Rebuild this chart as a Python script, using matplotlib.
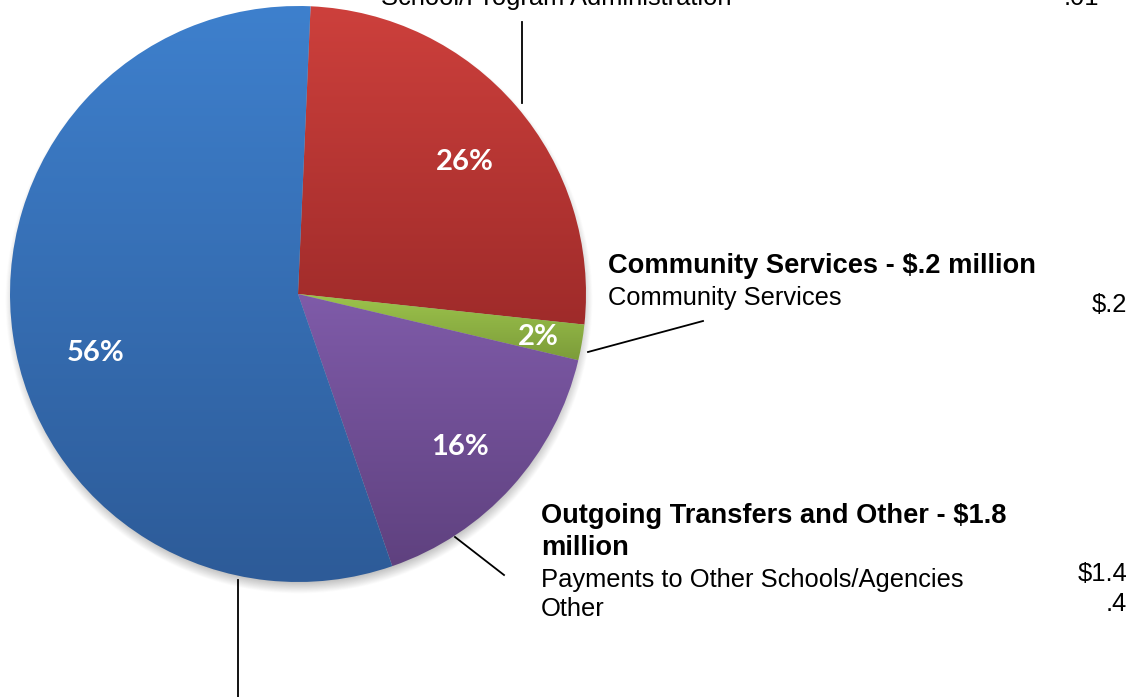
import numpy as np
import matplotlib
matplotlib.use("Agg")
import matplotlib.pyplot as plt
from matplotlib.colors import LinearSegmentedColormap

# Expenditure shares (percent of total)
categories = ["School/Program Administration", "Community Services",
              "Outgoing Transfers and Other", "Instruction"]
shares = [26, 2, 16, 56]
top_colors = ["#CD403C", "#9DC44C", "#7F5BA9", "#3E80CD"]
bottom_colors = ["#9F2B2A", "#7C9C3A", "#5F417F", "#2D5B98"]

# Call-out text and amounts ($ millions)
community_title = "Community Services - $.2 million"
community_items = ["Community Services"]
community_amounts = ["$.2"]
transfers_title = ["Outgoing Transfers and Other - $1.8", "million"]
transfers_items = ["Payments to Other Schools/Agencies", "Other"]
transfers_amounts = ["$1.4", ".4"]
admin_title = "School/Program Administration"
admin_amounts = [".01"]

W, H = 1129, 697
fig = plt.figure(figsize=(W / 100, H / 100), dpi=100)
ax = fig.add_axes([0, 0, 1, 1])


def py(y):
    """Convert a top-down pixel row into axis coordinates."""
    return H - y


cx, cy, R = 298, py(294), 288

# Soft drop shadow under the pie
sx, sy = cx + 1, cy - 6
gx = np.linspace(sx - R - 30, sx + R + 30, 700)
gy = np.linspace(sy - R - 30, sy + R + 30, 700)
XX, YY = np.meshgrid(gx, gy)
d = np.hypot(XX - sx, YY - sy)
alpha = np.clip((R + 6 - d) / 14.0, 0, 1) * 0.45
shadow = np.zeros((700, 700, 4))
shadow[..., :3] = 0.35
shadow[..., 3] = alpha
ax.imshow(shadow, extent=(gx[0], gx[-1], gy[0], gy[-1]), origin="lower",
          zorder=1, interpolation="bilinear")

wedges, _ = ax.pie(shares, center=(cx, cy), radius=R, startangle=87.5,
                   counterclock=False, frame=True,
                   wedgeprops=dict(edgecolor="none", linewidth=0))
ax.set_xlim(0, W)
ax.set_ylim(0, H)
ax.set_aspect("equal")
ax.axis("off")

# Vertical gradient fill clipped to each wedge
for w, c0, c1 in zip(wedges, top_colors, bottom_colors):
    w.set_facecolor("none")
    w.set_zorder(3)
    bb = w.get_path().get_extents(w.get_patch_transform())
    cmap = LinearSegmentedColormap.from_list("g", [c1, c0])
    grad = np.linspace(0, 1, 256).reshape(-1, 1)
    im = ax.imshow(grad, cmap=cmap, aspect="auto", origin="lower",
                   extent=(bb.x0, bb.x1, bb.y0, bb.y1), zorder=2,
                   interpolation="bilinear")
    im.set_clip_path(w)

# Percent labels inside the slices
pct_pos = [(465, 162), (538, 337), (460, 447), (96, 353)]
for v, (x, y) in zip(shares, pct_pos):
    ax.text(x, py(y), f"{v}%", color="white", fontsize=21, fontweight="bold",
            family="Lato", ha="center", va="center", zorder=5)

txt = dict(family="Liberation Sans", color="black", zorder=5)
fs = 18.4
fb = 19.6

# Administration call-out (runs off the top edge)
ax.text(556, py(5), admin_title, ha="center", va="baseline", fontsize=fs, **txt)
ax.text(1099, py(5), admin_amounts[0], ha="right", va="baseline", fontsize=fs, **txt)
ax.plot([522, 522], [py(22), py(103)], color="black", lw=1.3, zorder=5)

# Community services call-out
ax.text(608, py(266), community_title, ha="left", va="center",
        fontsize=fb, fontweight="bold", **txt)
ax.text(608, py(298), community_items[0], ha="left", va="center", fontsize=fs, **txt)
ax.text(1127, py(305), community_amounts[0], ha="right", va="center", fontsize=fs, **txt)
ax.plot([588, 703], [py(352), py(321)], color="black", lw=1.3, zorder=5)

# Outgoing transfers call-out
for i, line in enumerate(transfers_title):
    ax.text(541, py(516 + 32 * i), line, ha="left", va="center",
            fontsize=fb, fontweight="bold", **txt)
for i, (item, amt) in enumerate(zip(transfers_items, transfers_amounts)):
    ax.text(541, py(580 + 29 * i), item, ha="left", va="center", fontsize=fs, **txt)
    ax.text(1127, py(574 + 30 * i), amt, ha="right", va="center", fontsize=fs, **txt)
ax.plot([455, 504], [py(537), py(575)], color="black", lw=1.3, zorder=5)

# Instruction leader line (label sits below the visible area)
ax.plot([238, 238], [py(580), py(700)], color="black", lw=1.3, zorder=5)

fig.savefig("out.png", dpi=100)
